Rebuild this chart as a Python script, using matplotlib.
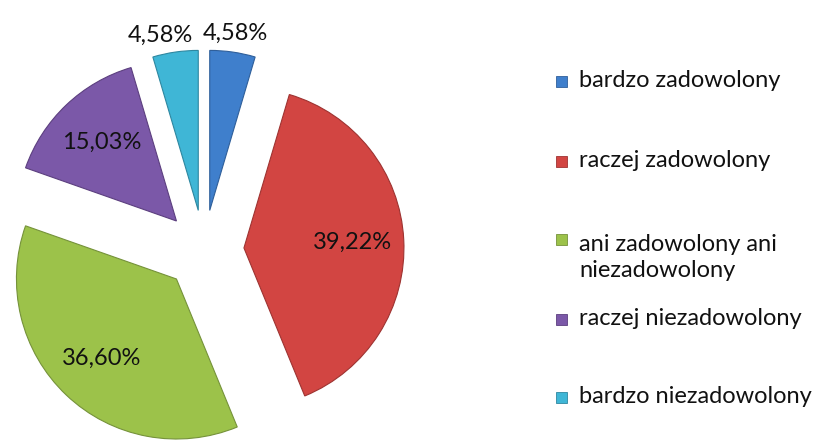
import numpy as np
import matplotlib
matplotlib.use("Agg")
import matplotlib.pyplot as plt
from matplotlib.patches import Rectangle

plt.rcParams['font.family'] = ['Lato', 'DejaVu Sans']

# data
categories = ["bardzo zadowolony", "raczej zadowolony",
              "ani zadowolony ani\nniezadowolony", "raczej niezadowolony",
              "bardzo niezadowolony"]
shares = [4.58, 39.22, 36.60, 15.03, 4.58]
colors = ["#3f7fcc", "#d24542", "#9cc24a", "#7b58a8", "#3fb6d6"]
edges = ["#2f5f9a", "#9e3331", "#75923a", "#5c3f7f", "#2e87a0"]

W, H = 815, 441
fig = plt.figure(figsize=(W / 100, H / 100), dpi=100)
ax = fig.add_axes([0, 0, 1, 1])

# axes in pixel units (y upwards)
R = 160
wedges, texts, autotexts = ax.pie(
    shares, colors=colors, startangle=90, counterclock=False,
    explode=[40] * len(shares), radius=R, center=(204, H - 250),
    autopct=lambda p: ("%.2f%%" % p).replace(".", ","), pctdistance=0.68,
    wedgeprops=dict(linewidth=0.8),
    textprops=dict(fontsize=17, color="#111111"), frame=True)
for w, ec in zip(wedges, edges):
    w.set_edgecolor(ec)
ax.axis('off')
ax.set_xlim(0, W)
ax.set_ylim(0, H)
ax.set_aspect('equal')

# small slices get their labels outside, like the original
for w, t in zip(wedges, autotexts):
    if abs(w.theta2 - w.theta1) < 20:
        ang = (w.theta1 + w.theta2) / 2
        if np.cos(np.deg2rad(ang)) < 0:
            ang += 4  # keep the two outside labels apart
        ang = np.deg2rad(ang)
        cx, cy = w.center
        t.set_position((cx + 1.12 * R * np.cos(ang), cy + 1.12 * R * np.sin(ang)))

# legend drawn by hand: entries spaced evenly like Excel does
base_y = [87, 167, 245, 325, 403]
line_h = 32
for lab, col, ec, by in zip(categories, colors, edges, base_y):
    ax.add_patch(Rectangle((556, H - by), 11, 11, facecolor=col,
                           edgecolor=ec, linewidth=0.6))
    nl = lab.count("\n")
    ax.text(579, H - by - nl * line_h, lab, fontsize=17, color="#111111",
            va="baseline", ha="left", linespacing=1.32)

fig.savefig("out.png", dpi=100)
